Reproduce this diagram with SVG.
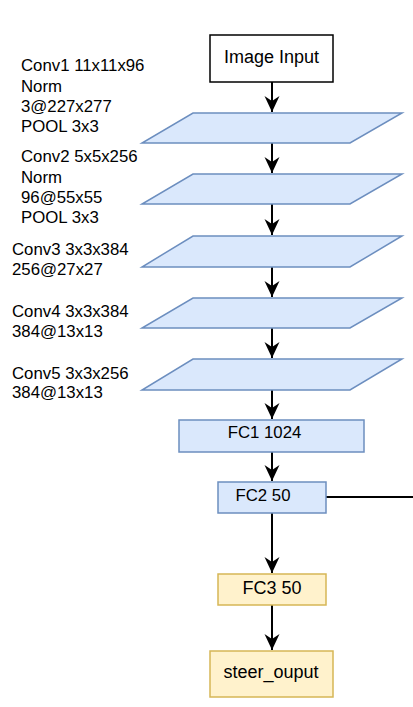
<svg xmlns="http://www.w3.org/2000/svg" width="413" height="707" viewBox="0 0 413 707">
<style>
text{font-family:"Liberation Sans",Arial,sans-serif;fill:#000}
.lbl{font-size:16.8px}
.conv{fill:#dae8fc;stroke:#6c8ebf;stroke-width:1.5}
.fc{fill:#dae8fc;stroke:#6c8ebf;stroke-width:1.5}
.yl{fill:#fff2cc;stroke:#d6b656;stroke-width:1.5}
.edge{stroke:#000;stroke-width:2;fill:none}
</style>
<defs>
<marker id="arr" markerUnits="userSpaceOnUse" markerWidth="18" markerHeight="18" viewBox="-17 -9 18 18" refX="0" refY="0" orient="auto">
<path d="M0,0 L-16,-7.5 L-11,0 L-16,7.5 Z" fill="#000"/>
</marker>
</defs>
<g id="edges">
<path class="edge" d="M272,82 V112" marker-end="url(#arr)"/>
<path class="edge" d="M272,143 V173" marker-end="url(#arr)"/>
<path class="edge" d="M272,204 V235" marker-end="url(#arr)"/>
<path class="edge" d="M272,267 V297" marker-end="url(#arr)"/>
<path class="edge" d="M272,328 V358" marker-end="url(#arr)"/>
<path class="edge" d="M272,390 V419" marker-end="url(#arr)"/>
<path class="edge" d="M272,452 V481" marker-end="url(#arr)"/>
<path class="edge" d="M272,513 V573" marker-end="url(#arr)"/>
<path class="edge" d="M272,605 V650" marker-end="url(#arr)"/>
<path class="edge" d="M326,497 H413"/>
</g>
<g id="image-input">
<rect x="210" y="35" width="123" height="47" fill="#fff" stroke="#000" stroke-width="1.5"/>
<text x="271.5" y="63" font-size="18" text-anchor="middle">Image Input</text>
</g>
<g id="conv1">
<polygon class="conv" points="193,113 402,113 350,143 142,143"/>
<text class="lbl" x="21" y="71">Conv1 11x11x96</text>
<text class="lbl" x="21" y="92">Norm</text>
<text class="lbl" x="21" y="112">3@227x277</text>
<text class="lbl" x="21" y="132">POOL 3x3</text>
</g>
<g id="conv2">
<polygon class="conv" points="193,174 402,174 350,204 142,204"/>
<text class="lbl" x="21" y="162">Conv2 5x5x256</text>
<text class="lbl" x="21" y="183">Norm</text>
<text class="lbl" x="21" y="203">96@55x55</text>
<text class="lbl" x="21" y="223">POOL 3x3</text>
</g>
<g id="conv3">
<polygon class="conv" points="193,236 402,236 350,267 142,267"/>
<text class="lbl" x="12" y="255">Conv3 3x3x384</text>
<text class="lbl" x="12" y="275">256@27x27</text>
</g>
<g id="conv4">
<polygon class="conv" points="193,298 402,298 350,328 142,328"/>
<text class="lbl" x="12" y="317">Conv4 3x3x384</text>
<text class="lbl" x="12" y="337">384@13x13</text>
</g>
<g id="conv5">
<polygon class="conv" points="193,359 402,359 350,390 142,390"/>
<text class="lbl" x="12" y="379">Conv5 3x3x256</text>
<text class="lbl" x="12" y="398">384@13x13</text>
</g>
<g id="fc1">
<rect class="fc" x="179" y="420" width="185" height="32"/>
<text class="lbl" x="264.5" y="438" text-anchor="middle">FC1 1024</text>
</g>
<g id="fc2">
<rect class="fc" x="218" y="482" width="108" height="31"/>
<text class="lbl" x="263" y="501" text-anchor="middle">FC2 50</text>
</g>
<g id="fc3">
<rect class="yl" x="218" y="574" width="108" height="31"/>
<text x="272" y="594" font-size="18" text-anchor="middle">FC3 50</text>
</g>
<g id="steer-output">
<rect class="yl" x="210" y="651" width="123" height="46"/>
<text x="271" y="678" font-size="18" text-anchor="middle">steer_ouput</text>
</g>
</svg>
